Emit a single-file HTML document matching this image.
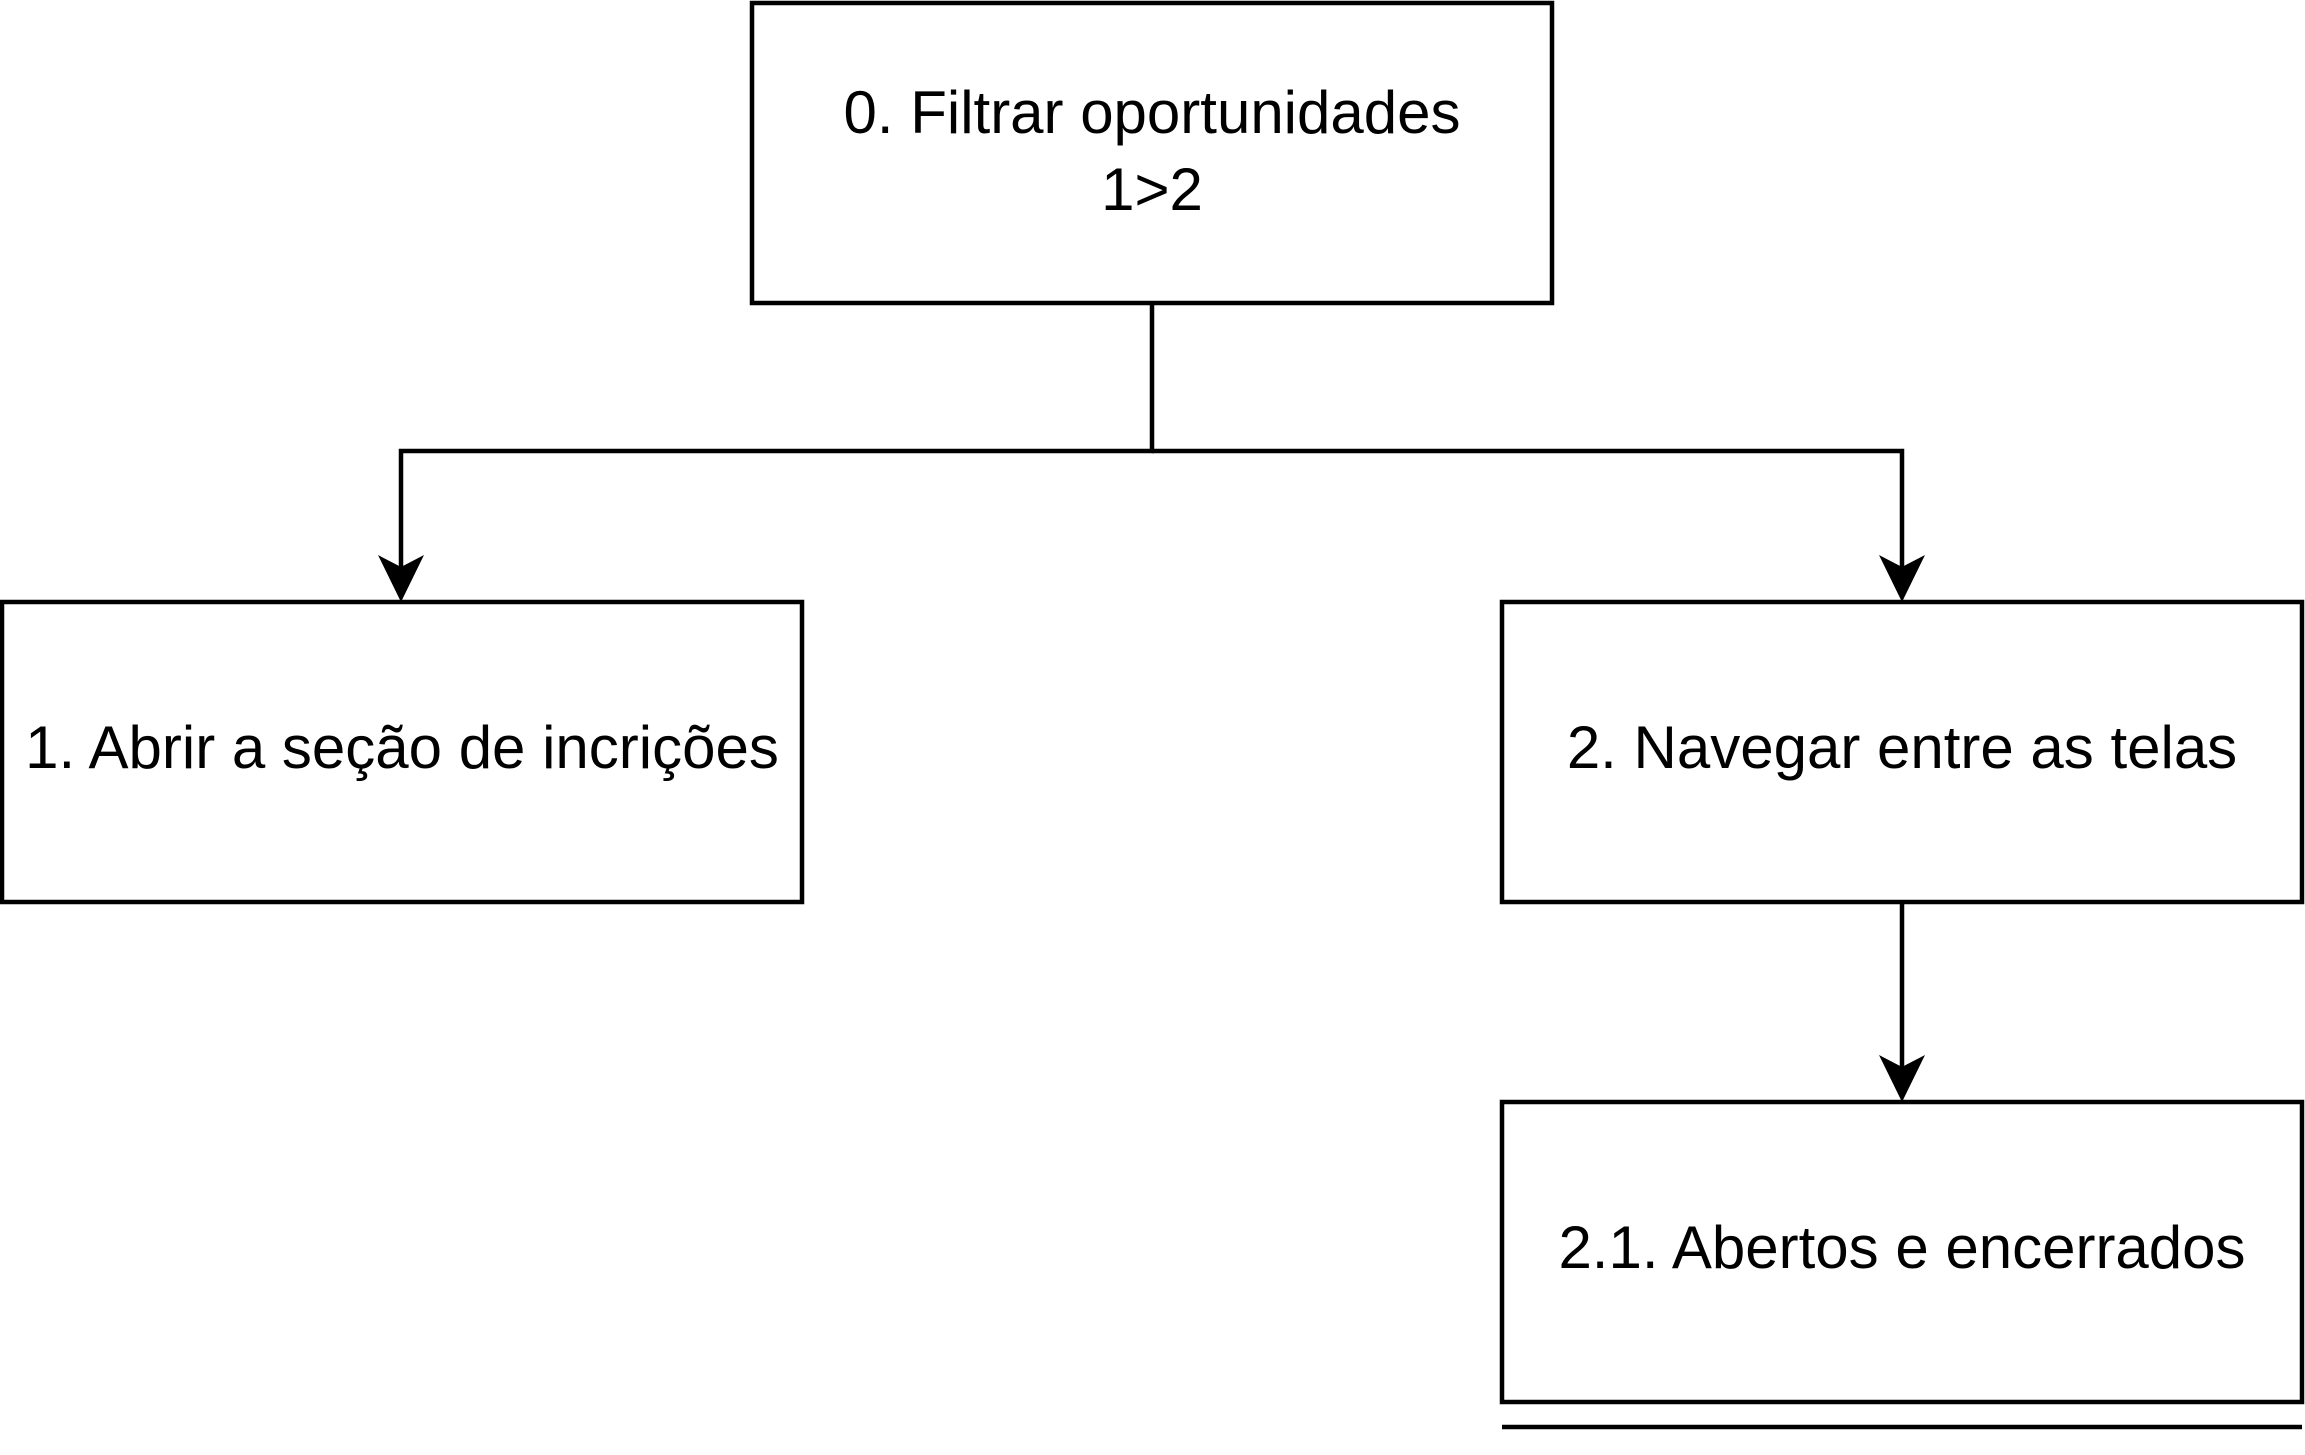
<!DOCTYPE html>
<html><head><meta charset="utf-8"><style>
html,body{margin:0;padding:0;background:#fff;}
svg{display:block;}
text{font-family:"Liberation Sans",Arial,sans-serif;font-size:60px;fill:#000;text-anchor:middle;}
</style></head><body>
<svg width="2305" height="1455" viewBox="0 0 2305 1455" xmlns="http://www.w3.org/2000/svg">
<g fill="none" stroke="#000" stroke-width="4.5">
<rect x="752" y="3" width="800" height="300"/>
<rect x="2" y="602" width="800" height="300"/>
<rect x="1502" y="602" width="800" height="300"/>
<rect x="1502" y="1102" width="800" height="300"/>
<line x1="1502" y1="1427" x2="2302" y2="1427"/>
<polyline points="1152,303 1152,451 401,451 401,575"/>
<polyline points="1152,451 1902,451 1902,575"/>
<line x1="1902" y1="902" x2="1902" y2="1075"/>
</g>
<g fill="#000">
<path d="M401,602 L378,555 L401,567 L424,555 Z"/>
<path d="M1902,602 L1879,555 L1902,567 L1925,555 Z"/>
<path d="M1902,1102 L1879,1055 L1902,1067 L1925,1055 Z"/>
</g>
<text x="1152" y="133">0. Filtrar oportunidades</text>
<text x="1152" y="210">1&gt;2</text>
<text x="402" y="768">1. Abrir a seção de incrições</text>
<text x="1902" y="768">2. Navegar entre as telas</text>
<text x="1902" y="1268">2.1. Abertos e encerrados</text>
</svg>
</body></html>
